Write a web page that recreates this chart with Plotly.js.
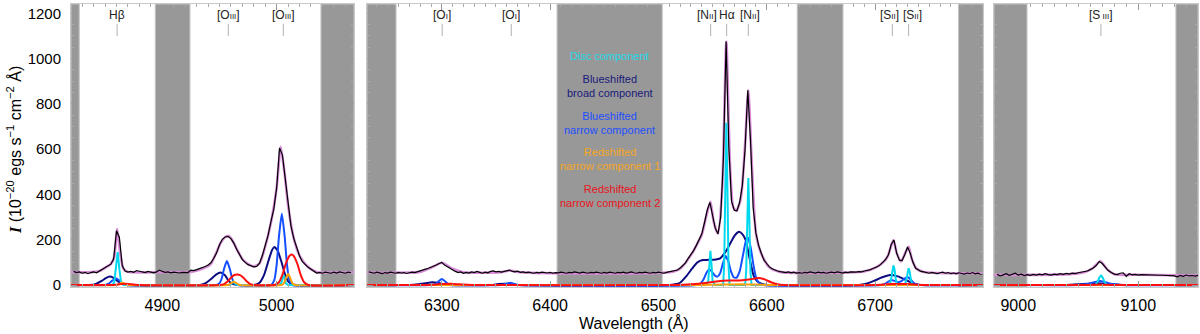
<!DOCTYPE html>
<html>
<head>
<meta charset="utf-8">
<script src="https://cdn.plot.ly/plotly-3.0.1.min.js"></script>
<style>
  body { margin: 0; background: #fff; }
  #chart { width: 1200px; height: 334px; }
</style>
</head>
<body>
<div id="chart"></div>
<script>
// spectrum sampling (Angstrom)
const step = 2.5;
const p1Start = 4822.5;
const p2Start = 6232.5;
const p3Start = 8982.5;

// observed flux, 10 values per row
const fluxP1 = [
    60, 55, 58, 52, 56, 50, 55, 58, 54, 62,
    70, 78, 84, 92, 115, 240, 210, 85, 62, 57,
    60, 56, 64, 60, 56, 55, 60, 57, 54, 58,
    66, 60, 56, 58, 54, 57, 55, 53, 56, 54,
    55, 66, 64, 68, 72, 75, 82, 88, 98, 118,
    142, 178, 202, 212, 215, 205, 185, 158, 135, 112,
    100, 90, 85, 80, 82, 96, 130, 175, 220, 280,
    335, 430, 605, 575, 470, 346, 260, 205, 165, 128,
    103, 90, 78, 70, 60, 53, 56, 52, 57, 54,
    52, 57, 53, 58, 55, 52, 57, 54
];
const fluxP2 = [
    58, 55, 52, 57, 54, 50, 55, 53, 57, 54,
    52, 56, 53, 55, 51, 54, 57, 55, 58, 62,
    64, 70, 74, 78, 82, 88, 95, 100, 88, 80,
    72, 66, 60, 55, 58, 52, 56, 53, 58, 55,
    60, 56, 52, 57, 54, 60, 62, 58, 60, 57,
    60, 63, 66, 60, 58, 61, 56, 58, 55, 57,
    54, 52, 56, 54, 57, 55, 53, 56, 52, 55,
    54, 57, 55, 52, 56, 54, 58, 55, 53, 57,
    55, 52, 56, 54, 57, 55, 52, 56, 53, 57,
    55, 52, 56, 54, 57, 53, 55, 58, 54, 52,
    56, 54, 57, 55, 52, 56, 54, 57, 55, 52,
    56, 58, 60, 62, 66, 75, 85, 98, 118, 135,
    152, 175, 200, 225, 275, 330, 365, 300, 250, 226,
    300, 560, 1075, 610, 370, 330, 328, 365, 440, 600,
    860, 640, 340, 230, 175, 140, 110, 95, 80, 72,
    66, 62, 59, 57, 55, 58, 54, 57, 53, 55,
    52, 56, 54, 58, 55, 53, 57, 54, 56, 52,
    55, 57, 54, 58, 56, 53, 57, 55, 58, 56,
    57, 59, 58, 62, 64, 67, 72, 76, 82, 90,
    100, 114, 135, 180, 198, 140, 110, 108, 135, 168,
    140, 100, 74, 66, 60, 58, 55, 52, 56, 53,
    50, 54, 57, 52, 55, 50, 53, 49, 54, 51,
    48, 53, 50, 55, 49, 52, 48, 51
];
const fluxP3 = [
    47, 40, 45, 50, 43, 46, 52, 44, 48, 42,
    46, 43, 47, 44, 48, 45, 50, 46, 44, 48,
    46, 50, 47, 51, 48, 52, 50, 54, 56, 58,
    62, 68, 75, 86, 104, 95, 80, 64, 55, 48,
    46, 52, 54, 38, 50, 45, 47, 44, 46, 45,
    44, 45, 44, 44, 43, 43, 42, 43, 42, 40,
    36, 42, 38, 44, 40, 42, 39, 43
];

// total fit
const modelP1X = [4820, 4835, 4845, 4850, 4855, 4858, 4860.5, 4863, 4866, 4870, 4900, 4925, 4935, 4942, 4947, 4951, 4955, 4958, 4961, 4965, 4970, 4975, 4980, 4985, 4990, 4995, 5000, 5003.5, 5007, 5010, 5015, 5020, 5025, 5030, 5036, 5045, 5068];
const modelP1Y = [57, 56, 62, 76, 92, 125, 248, 150, 72, 58, 57, 58, 72, 90, 140, 185, 212, 216, 200, 160, 115, 92, 82, 95, 170, 275, 430, 610, 490, 350, 205, 130, 92, 70, 55, 55, 55];
const modelP2X = [6230, 6280, 6290, 6300, 6310, 6320, 6355, 6363, 6372, 6510, 6520, 6530, 6540, 6544, 6548, 6551, 6555, 6559, 6562.7, 6566, 6569, 6572, 6576, 6580, 6583, 6586, 6590, 6595, 6602, 6612, 6690, 6700, 6708, 6712, 6717, 6720, 6724, 6728, 6731, 6734, 6738, 6745, 6801];
const modelP2Y = [55, 58, 76, 98, 72, 56, 57, 64, 56, 56, 72, 132, 222, 300, 368, 280, 226, 440, 1075, 540, 345, 328, 380, 620, 860, 560, 230, 138, 80, 58, 60, 76, 102, 130, 198, 142, 104, 142, 169, 115, 74, 57, 52];
const modelP3X = [8979, 9040, 9055, 9062, 9068.5, 9074, 9080, 9100, 9150];
const modelP3Y = [45, 47, 56, 74, 105, 70, 48, 45, 42];

// disc component
const discP1X = [4820, 4856, 4858, 4859.5, 4861, 4862.5, 4864, 4866, 4958, 4960, 4961, 4962, 4963, 4964, 4966, 5002, 5004, 5005, 5006, 5007, 5008, 5010, 5068];
const discP1Y = [0, 0, 12, 70, 145, 70, 12, 0, 0, 4, 11, 15, 11, 4, 0, 0, 8, 28, 44, 28, 8, 0, 0];
const discP2X = [6230, 6544, 6546, 6547, 6548, 6549, 6550, 6552, 6559.7, 6560.7, 6561.7, 6562.7, 6563.7, 6564.7, 6565.7, 6580, 6581, 6582, 6583, 6584, 6585, 6586, 6713.5, 6715, 6716, 6717, 6718, 6719, 6720.5, 6727.5, 6729, 6730, 6731, 6732, 6733, 6734.5, 6801];
const discP2Y = [0, 0, 18, 90, 151, 90, 18, 0, 0, 86, 430, 717, 430, 86, 0, 0, 57, 283, 472, 283, 57, 0, 0, 30, 70, 86, 70, 30, 0, 0, 26, 60, 74, 60, 26, 0, 0];
const discP3X = [8979, 9064, 9066, 9067.5, 9069, 9070.5, 9072, 9074, 9150];
const discP3Y = [0, 0, 12, 32, 42, 32, 12, 0, 0];

// blueshifted broad component
const broadP1X = [4820, 4836, 4842, 4847, 4851, 4854, 4857, 4861, 4865, 4869, 4933, 4938, 4943, 4947, 4951, 4955, 4958, 4962, 4966, 4980, 4985, 4989, 4993, 4996, 4998, 5001, 5004, 5007, 5010, 5014, 5018, 5068];
const broadP1Y = [0, 0, 5, 18, 32, 38, 33, 17, 5, 0, 0, 8, 28, 46, 55, 42, 18, 4, 0, 0, 10, 45, 110, 155, 168, 150, 105, 52, 16, 2, 0, 0];
const broadP2X = [6230, 6270, 6278, 6285, 6291, 6297, 6302, 6306, 6345, 6352, 6358, 6364, 6371, 6510, 6515, 6520, 6526, 6531, 6536, 6541, 6546, 6551, 6557, 6563, 6568, 6571, 6574.5, 6577.5, 6580.5, 6584.5, 6588, 6591, 6594.5, 6600, 6685, 6692, 6699, 6706, 6714, 6721, 6727, 6732, 6737, 6742, 6801];
const broadP2Y = [0, 0, 3, 8, 12, 9, 3, 0, 0, 4, 6, 4, 0, 0, 3, 10, 40, 72, 100, 110, 111, 112, 118, 154, 199, 222, 235, 225, 199, 110, 40, 17, 7, 0, 0, 6, 18, 33, 44, 38, 26, 14, 5, 0, 0];
const broadP3X = [8979, 9040, 9050, 9060, 9067, 9075, 9085, 9090, 9150];
const broadP3Y = [0, 0, 3, 7, 8, 5, 1, 0, 0];

// blueshifted narrow component
const narrowP1X = [4820, 4850, 4853, 4856, 4859.5, 4863, 4866, 4869, 4947, 4950, 4952, 4954, 4956.5, 4959, 4961, 4963, 4966, 4995, 4998, 5000, 5002, 5004.5, 5007, 5009, 5011, 5014, 5068];
const narrowP1Y = [0, 0, 6, 18, 30, 18, 6, 0, 0, 8, 30, 72, 106, 72, 30, 8, 0, 0, 23, 90, 214, 315, 214, 90, 23, 0, 0];
const narrowP2X = [6230, 6290, 6294, 6297, 6300, 6303, 6306, 6310, 6355, 6358, 6361, 6363, 6365, 6368, 6371, 6535, 6539, 6542, 6544.5, 6547, 6549.5, 6552, 6554.5, 6557, 6559.5, 6562, 6564.5, 6567, 6569.5, 6572, 6575, 6578, 6580.5, 6582.5, 6585, 6587.5, 6590, 6593, 6597, 6705, 6709, 6712, 6715, 6718, 6721, 6724, 6727, 6729.7, 6732.5, 6735.5, 6739, 6742, 6801];
const narrowP2Y = [0, 0, 4, 16, 26, 16, 4, 0, 0, 3, 8, 10, 8, 3, 0, 0, 8, 28, 55, 70, 58, 42, 37, 52, 95, 128, 105, 60, 34, 32, 60, 130, 190, 210, 170, 95, 35, 8, 0, 0, 5, 14, 22, 18, 12, 16, 27, 35, 26, 10, 2, 0, 0];
const narrowP3X = [8979, 9050, 9058, 9063, 9068, 9073, 9078, 9085, 9150];
const narrowP3Y = [0, 0, 4, 12, 18, 12, 4, 0, 0];

// redshifted narrow component 1
const red1P1X = [4820, 4860, 4862, 4864, 4865.5, 4867, 4869, 4871, 4957, 4959, 4961, 4962.5, 4964, 4966, 4968, 5004, 5006, 5008, 5010, 5012, 5014, 5016, 5068];
const red1P1Y = [0, 0, 3, 9, 10, 6, 1, 0, 0, 4, 11, 14, 11, 4, 0, 0, 6, 28, 50, 28, 6, 0, 0];
const red1P2X = [6230, 6540, 6560, 6575, 6590, 6605, 6801];
const red1P2Y = [0, 0, 2, 3, 2, 0, 0];
const red1P3X = [8979, 9150];
const red1P3Y = [0, 0];

// redshifted narrow component 2
const red2P1X = [4820, 4855, 4862, 4868, 4874, 4881, 4950, 4954, 4957, 4960, 4963, 4965.5, 4968, 4971, 4974, 4977, 4981, 4998, 5002, 5005, 5008, 5011, 5013, 5015, 5018, 5021, 5024, 5028, 5068];
const red2P1Y = [0, 0, 3, 6, 3, 0, 0, 4, 15, 32, 44, 46, 44, 32, 15, 4, 0, 0, 12, 45, 95, 128, 135, 128, 95, 45, 12, 0, 0];
const red2P2X = [6230, 6285, 6300, 6310, 6320, 6330, 6515, 6530, 6545, 6555, 6565, 6575, 6585, 6592, 6598, 6604, 6610, 6616, 6700, 6715, 6730, 6745, 6801];
const red2P2Y = [0, 0, 4, 5, 2, 0, 0, 3, 10, 17, 20, 20, 25, 31, 25, 12, 3, 0, 0, 4, 4, 0, 0];
const red2P3X = [8979, 9055, 9068, 9080, 9150];
const red2P3Y = [0, 0, 2, 0, 0];

// masked (grey) wavelength ranges
const maskP1 = [[4820.2, 4827.4], [4893.9, 4924.2], [5038.7, 5067.6]];
const maskP2 = [[6230.9, 6257.7], [6406.4, 6503.5], [6628.2, 6670.4], [6777.1, 6800]];
const maskP3 = [[8979.8, 9007.3], [9131.4, 9149.8]];

// emission line ids
const linesP1 = [[4860.5, "Hβ"], [4957.7, "O|III"], [5005.8, "O|III"]];
const linesP2 = [[6300.3, "O|I"], [6364.1, "O|I"], [6548.2, "N|II"], [6563, "Hα"], [6583, "N|II"], [6716, "S|II"], [6731, "S|II"]];
const linesP3 = [[9068.9, "S| III"]];
// small sideways nudges (px) so crowded labels do not collide
const nudgeP1 = [0, 0, 0];
const nudgeP2 = [0, 0, -4, 0, 2, -3, 4];
const nudgeP3 = [0];

const legendNames = ["Disc component", "Blueshifted<br>broad component", "Blueshifted<br>narrow component", "Redshifted<br>narrow component 1", "Redshifted<br>narrow component 2"];
const legendLevels = [1010, 878, 717, 556, 392];

const compColors = ["#00d8ee", "#0c0c80", "#1450ff", "#ffa000", "#ff1010"];
const textColors = ["#22d8ea", "#1a1a7a", "#1f4fff", "#f5a623", "#e8141c"];

const xRanges = [[4820.2, 5067.6], [6230.9, 6799.7], [8979.8, 9149.8]];
const domains = [[71 / 1200, 354 / 1200], [367 / 1200, 983 / 1200], [994 / 1200, 1198 / 1200]];
const yRange = [-8.8, 1241];

const fontFam = '"Liberation Sans", Arial, Helvetica, sans-serif';

function wavelengths(start, n) {
    const xs = [];
    for (let i = 0; i < n; i++) {
        xs.push(start + i * step);
    }
    return xs;
}

function ionLabel(s) {
    if (s.indexOf("|") < 0) return s;
    const parts = s.split("|");
    return "[" + parts[0] + '<span style="font-size:8px">' + parts[1] + "</span>]";
}

const panels = [
    { sfx: "", start: p1Start, flux: fluxP1, mx: modelP1X, my: modelP1Y,
      comps: [[discP1X, discP1Y], [broadP1X, broadP1Y], [narrowP1X, narrowP1Y], [red1P1X, red1P1Y], [red2P1X, red2P1Y]],
      mask: maskP1, lines: linesP1, nudge: nudgeP1 },
    { sfx: "2", start: p2Start, flux: fluxP2, mx: modelP2X, my: modelP2Y,
      comps: [[discP2X, discP2Y], [broadP2X, broadP2Y], [narrowP2X, narrowP2Y], [red1P2X, red1P2Y], [red2P2X, red2P2Y]],
      mask: maskP2, lines: linesP2, nudge: nudgeP2 },
    { sfx: "3", start: p3Start, flux: fluxP3, mx: modelP3X, my: modelP3Y,
      comps: [[discP3X, discP3Y], [broadP3X, broadP3Y], [narrowP3X, narrowP3Y], [red1P3X, red1P3Y], [red2P3X, red2P3Y]],
      mask: maskP3, lines: linesP3, nudge: nudgeP3 },
];

// draw order: broad, narrow, disc, orange, red on top
const compOrder = [1, 2, 0, 3, 4];

const traces = [];
const shapes = [];
const annotations = [];
const layout = {
    width: 1200,
    height: 334,
    margin: { l: 0, r: 0, t: 4, b: 47 },
    paper_bgcolor: "white",
    plot_bgcolor: "white",
    showlegend: false,
    font: { family: fontFam, color: "black" },
};

panels.forEach((p, i) => {
    const xa = "x" + p.sfx;
    const ya = "y" + p.sfx;

    traces.push({
        x: p.mx, y: p.my, xaxis: xa, yaxis: ya,
        mode: "lines",
        line: { color: "#d88ad8", width: 2.6, shape: "spline", smoothing: 0.6 },
        hoverinfo: "skip",
    });
    traces.push({
        x: wavelengths(p.start, p.flux.length), y: p.flux, xaxis: xa, yaxis: ya,
        mode: "lines",
        line: { color: "black", width: 1.2 },
    });
    compOrder.forEach(c => {
        traces.push({
            x: p.comps[c][0], y: p.comps[c][1], xaxis: xa, yaxis: ya,
            mode: "lines",
            line: { color: compColors[c], width: 2, shape: c === 0 ? "linear" : "spline", smoothing: 0.5 },
        });
    });

    p.mask.forEach(m => {
        shapes.push({
            type: "rect", xref: xa, yref: ya + " domain",
            x0: m[0], x1: m[1], y0: 0, y1: 1,
            fillcolor: "#989898", line: { color: "#c4c4c4", width: 1 }, layer: "below",
        });
    });

    p.lines.forEach((l, j) => {
        shapes.push({
            type: "line", xref: xa, yref: ya,
            x0: l[0], x1: l[0], y0: 1100, y1: 1152,
            line: { color: "#b0b0b0", width: 1 },
        });
        annotations.push({
            xref: xa, yref: ya, x: l[0], y: 1192,
            text: ionLabel(l[1]), showarrow: false,
            font: { size: 12, family: fontFam, color: "#222" },
            xanchor: "center", yanchor: "middle",
            xshift: p.nudge[j],
        });
    });

    layout["xaxis" + p.sfx] = {
        domain: domains[i],
        range: xRanges[i],
        anchor: ya,
        showgrid: false, zeroline: false,
        showline: true, linecolor: "#c8c8c8", linewidth: 1, mirror: "ticks",
        ticks: "inside", ticklen: 6, tickcolor: "#999", dtick: 100,
        minor: { ticks: "inside", dtick: 10, ticklen: 3, tickcolor: "#aaa" },
        tickfont: { size: 16, family: fontFam },
        ticklabelstandoff: 4,
    };
    layout["yaxis" + p.sfx] = {
        domain: [0, 1],
        range: yRange,
        anchor: xa,
        showgrid: false, zeroline: false,
        showline: true, linecolor: "#c8c8c8", linewidth: 1, mirror: "ticks",
        ticks: "inside", ticklen: 6, tickcolor: "#999", dtick: 200,
        minor: { ticks: "inside", dtick: 50, ticklen: 3, tickcolor: "#aaa" },
        showticklabels: i === 0,
        tickfont: { size: 15, family: fontFam },
        ticklabelstandoff: 6,
    };
});

legendNames.forEach((name, k) => {
    annotations.push({
        xref: "x2", yref: "y2", x: 6455, y: legendLevels[k],
        text: name, showarrow: false,
        font: { size: 11, family: fontFam, color: textColors[k] },
        xanchor: "center", yanchor: "middle", align: "center",
    });
});

// axis titles
annotations.push({
    xref: "paper", yref: "paper", x: 634 / 1200, y: (287 - 323) / 283,
    text: "Wavelength (Å)", showarrow: false,
    font: { size: 16, family: fontFam },
    xanchor: "center", yanchor: "middle",
});
annotations.push({
    xref: "paper", yref: "paper", x: 14 / 1200, y: (287 - 150) / 283,
    text: '<span style="font-family:\'Liberation Serif\',serif"><b><i>I</i></b></span> (10<sup>−20</sup> egs s<sup>−1</sup> cm<sup>−2</sup> Å)',
    textangle: -90, showarrow: false,
    font: { size: 16, family: fontFam },
    xanchor: "center", yanchor: "middle",
});

layout.shapes = shapes;
layout.annotations = annotations;

Plotly.newPlot("chart", traces, layout, { displayModeBar: false, staticPlot: true });
</script>
</body>
</html>
